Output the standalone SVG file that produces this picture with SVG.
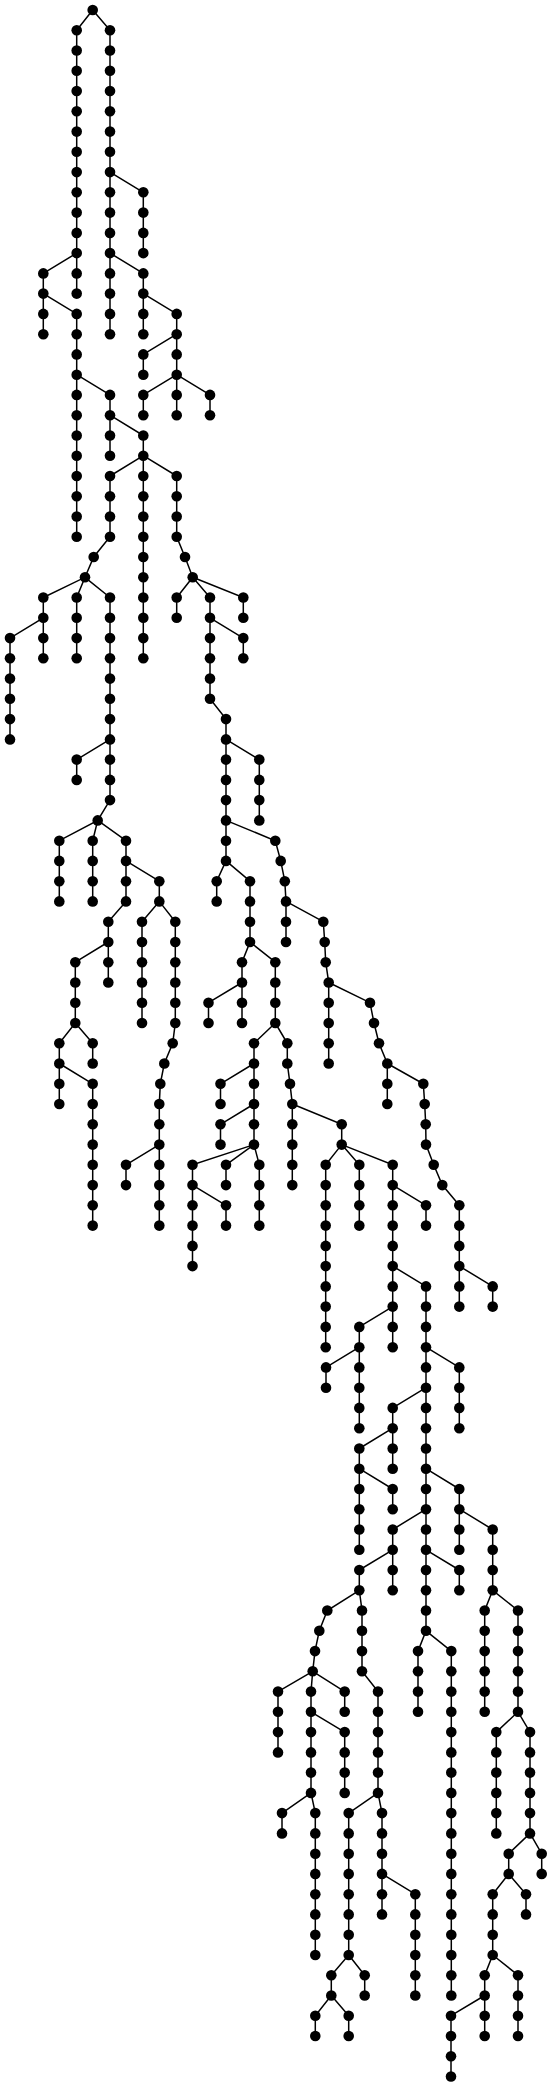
<svg xmlns="http://www.w3.org/2000/svg" width="552" height="2087" viewBox="0 0 552 2087">
<style>
.e path{fill:none;stroke:#000;stroke-width:1.5}
circle{fill:#000}
</style>
<rect width="552" height="2087" fill="#fff"/>
<g id="connectors" class="e">
<path d="M92.7 10L110 30.3V334.2"/>
<path d="M92.7 10L76.7 30.3V253.1L43.3 273.4V334.2"/>
<path d="M110 172.1L143.3 192.3V253.1"/>
<path d="M110 253.1L143.3 273.4V334.2"/>
<path d="M76.7 253.1V293.6"/>
<path d="M43.3 293.6L76.7 313.9V536.8"/>
<path d="M143.3 293.6L176.7 313.9V415.2"/>
<path d="M176.7 334.2L143.3 354.4V374.7"/>
<path d="M176.7 374.7L143.3 394.9V415.2"/>
<path d="M176.7 374.7L210 394.9V415.2"/>
<path d="M76.7 374.7L110 394.9V455.7"/>
<path d="M110 415.2L143.3 435.5V658.3"/>
<path d="M143.3 455.7L110 476V536.8L93.7 557L85 577.3L43.3 597.5V658.3"/>
<path d="M43.3 617.8L10 638.1V739.4"/>
<path d="M85 577.3L76.7 597.5V658.3"/>
<path d="M85 577.3L110 597.5V800.1L97.7 820.4L59.3 840.7V901.4"/>
<path d="M110 739.4L76.7 759.6V779.9"/>
<path d="M97.7 820.4L92.7 840.7V901.4"/>
<path d="M97.7 820.4L126 840.7V901.4L108.3 921.7V982.5"/>
<path d="M108.3 942L75.3 962.2V1023L59.3 1043.3V1104"/>
<path d="M59.3 1063.5L92.7 1083.8V1225.6"/>
<path d="M75.3 1023L92.7 1043.3V1063.5"/>
<path d="M126 860.9L159.3 881.2V901.4L142 921.7V1023"/>
<path d="M159.3 901.4L175.3 921.7V1023L172.7 1043.3L164.3 1063.5L160.3 1083.8L159.3 1104V1225.6"/>
<path d="M159.3 1144.6L126 1164.8V1185.1"/>
<path d="M143.3 455.7L176.7 476V536.8L185 557L192.7 577.3L176.7 597.5V617.8"/>
<path d="M192.7 577.3L243.3 597.5V617.8"/>
<path d="M192.7 577.3L210 597.5V698.8L226 719.1V860.9L216.7 881.2V901.4"/>
<path d="M210 617.8L243.3 638.1V658.3"/>
<path d="M226 739.4L259.3 759.6V820.4"/>
<path d="M226 860.9L250 881.2V942L242 962.2V1023"/>
<path d="M242 982.5L208.5 1002.7V1023"/>
<path d="M250 942L275.3 962.2V1023L254 1043.3V1144.6L259.3 1164.8V1225.6"/>
<path d="M254 1063.5L220.5 1083.8V1104"/>
<path d="M254 1104L220.5 1124.3V1144.6"/>
<path d="M254 1144.6L192.5 1164.8V1266.1"/>
<path d="M192.5 1185.1L226 1205.3V1225.6"/>
<path d="M254 1144.6L226 1164.8V1185.1"/>
<path d="M226 820.4L275.3 840.7L280.7 860.9L284.8 881.2L286 901.4V942"/>
<path d="M286 901.4L323.3 921.7L324.7 942L325.7 962.2L328.7 982.5V1063.5"/>
<path d="M328.7 982.5L370 1002.7L374 1023L379 1043.3L387.3 1063.5V1104"/>
<path d="M387.3 1063.5L423.3 1083.8L424.7 1104L425.7 1124.3L426 1144.6L433.7 1164.8L442.3 1185.1L459.3 1205.3V1306.6"/>
<path d="M459.3 1266.1L492.7 1286.4V1306.6"/>
<path d="M275.3 1023L287.3 1043.3V1063.5L290 1083.8L292.3 1104V1185.1"/>
<path d="M292.3 1104L341.7 1124.3V1144.6L325.7 1164.8V1347.2"/>
<path d="M341.7 1144.6L359.3 1164.8V1225.6"/>
<path d="M341.7 1144.6L392.7 1164.8V1347.2"/>
<path d="M392.7 1185.1L426 1205.3V1225.6"/>
<path d="M392.7 1266.1L426 1286.4V1630.8L418 1651.1V1711.8"/>
<path d="M426 1630.8L451.3 1651.1V1995.5"/>
<path d="M392.7 1306.6L359.3 1326.9V1428.2"/>
<path d="M359.3 1347.2L326 1367.4V1387.7"/>
<path d="M426 1347.2L459.3 1367.4V1428.2"/>
<path d="M426 1387.7L392.7 1407.9V1468.7"/>
<path d="M392.7 1428.2L359.3 1448.5V1549.8"/>
<path d="M359.3 1468.7L392.7 1489V1509.2"/>
<path d="M426 1468.7L459.3 1489V1549.8"/>
<path d="M426 1509.2L392.7 1529.5V1590.3"/>
<path d="M426 1549.8L459.3 1570V1590.3"/>
<path d="M392.7 1549.8L359.3 1570V1590.3L362 1610.5V1671.3L378 1691.6V1792.9L382 1813.1V1914.4"/>
<path d="M378 1792.9L348.7 1813.1V1955L331.3 1975.2V1995.5L315.3 2015.7V2036"/>
<path d="M331.3 1995.5L348.7 2015.7V2036"/>
<path d="M348.7 1955L364.7 1975.2V1995.5"/>
<path d="M382 1873.9L415.3 1894.2V1995.5"/>
<path d="M359.3 1590.3L327.3 1610.5L319.3 1630.8L315 1651.1L312.7 1671.3L311 1691.6V1792.9L315.3 1813.1V1955"/>
<path d="M312.7 1671.3L278 1691.6V1752.4"/>
<path d="M312.7 1671.3L344.7 1691.6V1711.8"/>
<path d="M311 1711.8L344.7 1732.1V1792.9"/>
<path d="M311 1792.9L282 1813.1V1833.4"/>
<path d="M459.3 1509.2L492.7 1529.5V1590.3L518 1610.5V1711.8L530 1732.1V1833.4L508.7 1853.7V1873.9L492.7 1894.2V1955L518 1975.2V2036"/>
<path d="M492.7 1590.3L484.7 1610.5V1711.8"/>
<path d="M518 1711.8L496.3 1732.1V1833.4"/>
<path d="M530 1833.4L541.7 1853.7V1873.9"/>
<path d="M508.7 1873.9L526 1894.2V1914.4"/>
<path d="M492.7 1955L484.7 1975.2V2036"/>
<path d="M484.7 1995.5L451 2015.7V2076.5"/>
</g>
<g id="nodes">
<g id="n1"><circle cx="92.7" cy="10" r="5.3"/></g>
<g id="n2"><circle cx="110" cy="30.3" r="5.3"/></g>
<g id="n3"><circle cx="110" cy="50.5" r="5.3"/></g>
<g id="n4"><circle cx="110" cy="70.8" r="5.3"/></g>
<g id="n5"><circle cx="110" cy="91" r="5.3"/></g>
<g id="n6"><circle cx="110" cy="111.3" r="5.3"/></g>
<g id="n7"><circle cx="110" cy="131.6" r="5.3"/></g>
<g id="n8"><circle cx="110" cy="151.8" r="5.3"/></g>
<g id="n9"><circle cx="110" cy="172.1" r="5.3"/></g>
<g id="n10"><circle cx="110" cy="192.3" r="5.3"/></g>
<g id="n11"><circle cx="110" cy="212.6" r="5.3"/></g>
<g id="n12"><circle cx="110" cy="232.9" r="5.3"/></g>
<g id="n13"><circle cx="110" cy="253.1" r="5.3"/></g>
<g id="n14"><circle cx="110" cy="273.4" r="5.3"/></g>
<g id="n15"><circle cx="110" cy="293.6" r="5.3"/></g>
<g id="n16"><circle cx="110" cy="313.9" r="5.3"/></g>
<g id="n17"><circle cx="110" cy="334.2" r="5.3"/></g>
<g id="n18"><circle cx="76.7" cy="30.3" r="5.3"/></g>
<g id="n19"><circle cx="76.7" cy="50.5" r="5.3"/></g>
<g id="n20"><circle cx="76.7" cy="70.8" r="5.3"/></g>
<g id="n21"><circle cx="76.7" cy="91" r="5.3"/></g>
<g id="n22"><circle cx="76.7" cy="111.3" r="5.3"/></g>
<g id="n23"><circle cx="76.7" cy="131.6" r="5.3"/></g>
<g id="n24"><circle cx="76.7" cy="151.8" r="5.3"/></g>
<g id="n25"><circle cx="76.7" cy="172.1" r="5.3"/></g>
<g id="n26"><circle cx="76.7" cy="192.3" r="5.3"/></g>
<g id="n27"><circle cx="76.7" cy="212.6" r="5.3"/></g>
<g id="n28"><circle cx="76.7" cy="232.9" r="5.3"/></g>
<g id="n29"><circle cx="76.7" cy="253.1" r="5.3"/></g>
<g id="n30"><circle cx="43.3" cy="273.4" r="5.3"/></g>
<g id="n31"><circle cx="43.3" cy="293.6" r="5.3"/></g>
<g id="n32"><circle cx="43.3" cy="313.9" r="5.3"/></g>
<g id="n33"><circle cx="43.3" cy="334.2" r="5.3"/></g>
<g id="n34"><circle cx="143.3" cy="192.3" r="5.3"/></g>
<g id="n35"><circle cx="143.3" cy="212.6" r="5.3"/></g>
<g id="n36"><circle cx="143.3" cy="232.9" r="5.3"/></g>
<g id="n37"><circle cx="143.3" cy="253.1" r="5.3"/></g>
<g id="n38"><circle cx="143.3" cy="273.4" r="5.3"/></g>
<g id="n39"><circle cx="143.3" cy="293.6" r="5.3"/></g>
<g id="n40"><circle cx="143.3" cy="313.9" r="5.3"/></g>
<g id="n41"><circle cx="143.3" cy="334.2" r="5.3"/></g>
<g id="n42"><circle cx="76.7" cy="273.4" r="5.3"/></g>
<g id="n43"><circle cx="76.7" cy="293.6" r="5.3"/></g>
<g id="n44"><circle cx="76.7" cy="313.9" r="5.3"/></g>
<g id="n45"><circle cx="76.7" cy="334.2" r="5.3"/></g>
<g id="n46"><circle cx="76.7" cy="354.4" r="5.3"/></g>
<g id="n47"><circle cx="76.7" cy="374.7" r="5.3"/></g>
<g id="n48"><circle cx="76.7" cy="394.9" r="5.3"/></g>
<g id="n49"><circle cx="76.7" cy="415.2" r="5.3"/></g>
<g id="n50"><circle cx="76.7" cy="435.5" r="5.3"/></g>
<g id="n51"><circle cx="76.7" cy="455.7" r="5.3"/></g>
<g id="n52"><circle cx="76.7" cy="476" r="5.3"/></g>
<g id="n53"><circle cx="76.7" cy="496.2" r="5.3"/></g>
<g id="n54"><circle cx="76.7" cy="516.5" r="5.3"/></g>
<g id="n55"><circle cx="76.7" cy="536.8" r="5.3"/></g>
<g id="n56"><circle cx="176.7" cy="313.9" r="5.3"/></g>
<g id="n57"><circle cx="176.7" cy="334.2" r="5.3"/></g>
<g id="n58"><circle cx="176.7" cy="354.4" r="5.3"/></g>
<g id="n59"><circle cx="176.7" cy="374.7" r="5.3"/></g>
<g id="n60"><circle cx="176.7" cy="394.9" r="5.3"/></g>
<g id="n61"><circle cx="176.7" cy="415.2" r="5.3"/></g>
<g id="n62"><circle cx="143.3" cy="354.4" r="5.3"/></g>
<g id="n63"><circle cx="143.3" cy="374.7" r="5.3"/></g>
<g id="n64"><circle cx="143.3" cy="394.9" r="5.3"/></g>
<g id="n65"><circle cx="143.3" cy="415.2" r="5.3"/></g>
<g id="n66"><circle cx="210" cy="394.9" r="5.3"/></g>
<g id="n67"><circle cx="210" cy="415.2" r="5.3"/></g>
<g id="n68"><circle cx="110" cy="394.9" r="5.3"/></g>
<g id="n69"><circle cx="110" cy="415.2" r="5.3"/></g>
<g id="n70"><circle cx="110" cy="435.5" r="5.3"/></g>
<g id="n71"><circle cx="110" cy="455.7" r="5.3"/></g>
<g id="n72"><circle cx="143.3" cy="435.5" r="5.3"/></g>
<g id="n73"><circle cx="143.3" cy="455.7" r="5.3"/></g>
<g id="n74"><circle cx="143.3" cy="476" r="5.3"/></g>
<g id="n75"><circle cx="143.3" cy="496.2" r="5.3"/></g>
<g id="n76"><circle cx="143.3" cy="516.5" r="5.3"/></g>
<g id="n77"><circle cx="143.3" cy="536.8" r="5.3"/></g>
<g id="n78"><circle cx="143.3" cy="557" r="5.3"/></g>
<g id="n79"><circle cx="143.3" cy="577.3" r="5.3"/></g>
<g id="n80"><circle cx="143.3" cy="597.5" r="5.3"/></g>
<g id="n81"><circle cx="143.3" cy="617.8" r="5.3"/></g>
<g id="n82"><circle cx="143.3" cy="638.1" r="5.3"/></g>
<g id="n83"><circle cx="143.3" cy="658.3" r="5.3"/></g>
<g id="n84"><circle cx="110" cy="476" r="5.3"/></g>
<g id="n85"><circle cx="110" cy="496.2" r="5.3"/></g>
<g id="n86"><circle cx="110" cy="516.5" r="5.3"/></g>
<g id="n87"><circle cx="110" cy="536.8" r="5.3"/></g>
<g id="n88"><circle cx="93.7" cy="557" r="5.3"/></g>
<g id="n89"><circle cx="85" cy="577.3" r="5.3"/></g>
<g id="n90"><circle cx="43.3" cy="597.5" r="5.3"/></g>
<g id="n91"><circle cx="43.3" cy="617.8" r="5.3"/></g>
<g id="n92"><circle cx="43.3" cy="638.1" r="5.3"/></g>
<g id="n93"><circle cx="43.3" cy="658.3" r="5.3"/></g>
<g id="n94"><circle cx="10" cy="638.1" r="5.3"/></g>
<g id="n95"><circle cx="10" cy="658.3" r="5.3"/></g>
<g id="n96"><circle cx="10" cy="678.6" r="5.3"/></g>
<g id="n97"><circle cx="10" cy="698.8" r="5.3"/></g>
<g id="n98"><circle cx="10" cy="719.1" r="5.3"/></g>
<g id="n99"><circle cx="10" cy="739.4" r="5.3"/></g>
<g id="n100"><circle cx="76.7" cy="597.5" r="5.3"/></g>
<g id="n101"><circle cx="76.7" cy="617.8" r="5.3"/></g>
<g id="n102"><circle cx="76.7" cy="638.1" r="5.3"/></g>
<g id="n103"><circle cx="76.7" cy="658.3" r="5.3"/></g>
<g id="n104"><circle cx="110" cy="597.5" r="5.3"/></g>
<g id="n105"><circle cx="110" cy="617.8" r="5.3"/></g>
<g id="n106"><circle cx="110" cy="638.1" r="5.3"/></g>
<g id="n107"><circle cx="110" cy="658.3" r="5.3"/></g>
<g id="n108"><circle cx="110" cy="678.6" r="5.3"/></g>
<g id="n109"><circle cx="110" cy="698.8" r="5.3"/></g>
<g id="n110"><circle cx="110" cy="719.1" r="5.3"/></g>
<g id="n111"><circle cx="110" cy="739.4" r="5.3"/></g>
<g id="n112"><circle cx="110" cy="759.6" r="5.3"/></g>
<g id="n113"><circle cx="110" cy="779.9" r="5.3"/></g>
<g id="n114"><circle cx="110" cy="800.1" r="5.3"/></g>
<g id="n115"><circle cx="97.7" cy="820.4" r="5.3"/></g>
<g id="n116"><circle cx="59.3" cy="840.7" r="5.3"/></g>
<g id="n117"><circle cx="59.3" cy="860.9" r="5.3"/></g>
<g id="n118"><circle cx="59.3" cy="881.2" r="5.3"/></g>
<g id="n119"><circle cx="59.3" cy="901.4" r="5.3"/></g>
<g id="n120"><circle cx="76.7" cy="759.6" r="5.3"/></g>
<g id="n121"><circle cx="76.7" cy="779.9" r="5.3"/></g>
<g id="n122"><circle cx="92.7" cy="840.7" r="5.3"/></g>
<g id="n123"><circle cx="92.7" cy="860.9" r="5.3"/></g>
<g id="n124"><circle cx="92.7" cy="881.2" r="5.3"/></g>
<g id="n125"><circle cx="92.7" cy="901.4" r="5.3"/></g>
<g id="n126"><circle cx="126" cy="840.7" r="5.3"/></g>
<g id="n127"><circle cx="126" cy="860.9" r="5.3"/></g>
<g id="n128"><circle cx="126" cy="881.2" r="5.3"/></g>
<g id="n129"><circle cx="126" cy="901.4" r="5.3"/></g>
<g id="n130"><circle cx="108.3" cy="921.7" r="5.3"/></g>
<g id="n131"><circle cx="108.3" cy="942" r="5.3"/></g>
<g id="n132"><circle cx="108.3" cy="962.2" r="5.3"/></g>
<g id="n133"><circle cx="108.3" cy="982.5" r="5.3"/></g>
<g id="n134"><circle cx="75.3" cy="962.2" r="5.3"/></g>
<g id="n135"><circle cx="75.3" cy="982.5" r="5.3"/></g>
<g id="n136"><circle cx="75.3" cy="1002.7" r="5.3"/></g>
<g id="n137"><circle cx="75.3" cy="1023" r="5.3"/></g>
<g id="n138"><circle cx="59.3" cy="1043.3" r="5.3"/></g>
<g id="n139"><circle cx="59.3" cy="1063.5" r="5.3"/></g>
<g id="n140"><circle cx="59.3" cy="1083.8" r="5.3"/></g>
<g id="n141"><circle cx="59.3" cy="1104" r="5.3"/></g>
<g id="n142"><circle cx="92.7" cy="1083.8" r="5.3"/></g>
<g id="n143"><circle cx="92.7" cy="1104" r="5.3"/></g>
<g id="n144"><circle cx="92.7" cy="1124.3" r="5.3"/></g>
<g id="n145"><circle cx="92.7" cy="1144.6" r="5.3"/></g>
<g id="n146"><circle cx="92.7" cy="1164.8" r="5.3"/></g>
<g id="n147"><circle cx="92.7" cy="1185.1" r="5.3"/></g>
<g id="n148"><circle cx="92.7" cy="1205.3" r="5.3"/></g>
<g id="n149"><circle cx="92.7" cy="1225.6" r="5.3"/></g>
<g id="n150"><circle cx="92.7" cy="1043.3" r="5.3"/></g>
<g id="n151"><circle cx="92.7" cy="1063.5" r="5.3"/></g>
<g id="n152"><circle cx="159.3" cy="881.2" r="5.3"/></g>
<g id="n153"><circle cx="159.3" cy="901.4" r="5.3"/></g>
<g id="n154"><circle cx="142" cy="921.7" r="5.3"/></g>
<g id="n155"><circle cx="142" cy="942" r="5.3"/></g>
<g id="n156"><circle cx="142" cy="962.2" r="5.3"/></g>
<g id="n157"><circle cx="142" cy="982.5" r="5.3"/></g>
<g id="n158"><circle cx="142" cy="1002.7" r="5.3"/></g>
<g id="n159"><circle cx="142" cy="1023" r="5.3"/></g>
<g id="n160"><circle cx="175.3" cy="921.7" r="5.3"/></g>
<g id="n161"><circle cx="175.3" cy="942" r="5.3"/></g>
<g id="n162"><circle cx="175.3" cy="962.2" r="5.3"/></g>
<g id="n163"><circle cx="175.3" cy="982.5" r="5.3"/></g>
<g id="n164"><circle cx="175.3" cy="1002.7" r="5.3"/></g>
<g id="n165"><circle cx="175.3" cy="1023" r="5.3"/></g>
<g id="n166"><circle cx="172.7" cy="1043.3" r="5.3"/></g>
<g id="n167"><circle cx="164.3" cy="1063.5" r="5.3"/></g>
<g id="n168"><circle cx="160.3" cy="1083.8" r="5.3"/></g>
<g id="n169"><circle cx="159.3" cy="1104" r="5.3"/></g>
<g id="n170"><circle cx="159.3" cy="1124.3" r="5.3"/></g>
<g id="n171"><circle cx="159.3" cy="1144.6" r="5.3"/></g>
<g id="n172"><circle cx="159.3" cy="1164.8" r="5.3"/></g>
<g id="n173"><circle cx="159.3" cy="1185.1" r="5.3"/></g>
<g id="n174"><circle cx="159.3" cy="1205.3" r="5.3"/></g>
<g id="n175"><circle cx="159.3" cy="1225.6" r="5.3"/></g>
<g id="n176"><circle cx="126" cy="1164.8" r="5.3"/></g>
<g id="n177"><circle cx="126" cy="1185.1" r="5.3"/></g>
<g id="n178"><circle cx="176.7" cy="476" r="5.3"/></g>
<g id="n179"><circle cx="176.7" cy="496.2" r="5.3"/></g>
<g id="n180"><circle cx="176.7" cy="516.5" r="5.3"/></g>
<g id="n181"><circle cx="176.7" cy="536.8" r="5.3"/></g>
<g id="n182"><circle cx="185" cy="557" r="5.3"/></g>
<g id="n183"><circle cx="192.7" cy="577.3" r="5.3"/></g>
<g id="n184"><circle cx="176.7" cy="597.5" r="5.3"/></g>
<g id="n185"><circle cx="176.7" cy="617.8" r="5.3"/></g>
<g id="n186"><circle cx="243.3" cy="597.5" r="5.3"/></g>
<g id="n187"><circle cx="243.3" cy="617.8" r="5.3"/></g>
<g id="n188"><circle cx="210" cy="597.5" r="5.3"/></g>
<g id="n189"><circle cx="210" cy="617.8" r="5.3"/></g>
<g id="n190"><circle cx="210" cy="638.1" r="5.3"/></g>
<g id="n191"><circle cx="210" cy="658.3" r="5.3"/></g>
<g id="n192"><circle cx="210" cy="678.6" r="5.3"/></g>
<g id="n193"><circle cx="210" cy="698.8" r="5.3"/></g>
<g id="n194"><circle cx="226" cy="719.1" r="5.3"/></g>
<g id="n195"><circle cx="226" cy="739.4" r="5.3"/></g>
<g id="n196"><circle cx="226" cy="759.6" r="5.3"/></g>
<g id="n197"><circle cx="226" cy="779.9" r="5.3"/></g>
<g id="n198"><circle cx="226" cy="800.1" r="5.3"/></g>
<g id="n199"><circle cx="226" cy="820.4" r="5.3"/></g>
<g id="n200"><circle cx="226" cy="840.7" r="5.3"/></g>
<g id="n201"><circle cx="226" cy="860.9" r="5.3"/></g>
<g id="n202"><circle cx="216.7" cy="881.2" r="5.3"/></g>
<g id="n203"><circle cx="216.7" cy="901.4" r="5.3"/></g>
<g id="n204"><circle cx="243.3" cy="638.1" r="5.3"/></g>
<g id="n205"><circle cx="243.3" cy="658.3" r="5.3"/></g>
<g id="n206"><circle cx="259.3" cy="759.6" r="5.3"/></g>
<g id="n207"><circle cx="259.3" cy="779.9" r="5.3"/></g>
<g id="n208"><circle cx="259.3" cy="800.1" r="5.3"/></g>
<g id="n209"><circle cx="259.3" cy="820.4" r="5.3"/></g>
<g id="n210"><circle cx="250" cy="881.2" r="5.3"/></g>
<g id="n211"><circle cx="250" cy="901.4" r="5.3"/></g>
<g id="n212"><circle cx="250" cy="921.7" r="5.3"/></g>
<g id="n213"><circle cx="250" cy="942" r="5.3"/></g>
<g id="n214"><circle cx="242" cy="962.2" r="5.3"/></g>
<g id="n215"><circle cx="242" cy="982.5" r="5.3"/></g>
<g id="n216"><circle cx="242" cy="1002.7" r="5.3"/></g>
<g id="n217"><circle cx="242" cy="1023" r="5.3"/></g>
<g id="n218"><circle cx="208.5" cy="1002.7" r="5.3"/></g>
<g id="n219"><circle cx="208.5" cy="1023" r="5.3"/></g>
<g id="n220"><circle cx="275.3" cy="962.2" r="5.3"/></g>
<g id="n221"><circle cx="275.3" cy="982.5" r="5.3"/></g>
<g id="n222"><circle cx="275.3" cy="1002.7" r="5.3"/></g>
<g id="n223"><circle cx="275.3" cy="1023" r="5.3"/></g>
<g id="n224"><circle cx="254" cy="1043.3" r="5.3"/></g>
<g id="n225"><circle cx="254" cy="1063.5" r="5.3"/></g>
<g id="n226"><circle cx="254" cy="1083.8" r="5.3"/></g>
<g id="n227"><circle cx="254" cy="1104" r="5.3"/></g>
<g id="n228"><circle cx="254" cy="1124.3" r="5.3"/></g>
<g id="n229"><circle cx="254" cy="1144.6" r="5.3"/></g>
<g id="n230"><circle cx="259.3" cy="1164.8" r="5.3"/></g>
<g id="n231"><circle cx="259.3" cy="1185.1" r="5.3"/></g>
<g id="n232"><circle cx="259.3" cy="1205.3" r="5.3"/></g>
<g id="n233"><circle cx="259.3" cy="1225.6" r="5.3"/></g>
<g id="n234"><circle cx="220.5" cy="1083.8" r="5.3"/></g>
<g id="n235"><circle cx="220.5" cy="1104" r="5.3"/></g>
<g id="n236"><circle cx="220.5" cy="1124.3" r="5.3"/></g>
<g id="n237"><circle cx="220.5" cy="1144.6" r="5.3"/></g>
<g id="n238"><circle cx="192.5" cy="1164.8" r="5.3"/></g>
<g id="n239"><circle cx="192.5" cy="1185.1" r="5.3"/></g>
<g id="n240"><circle cx="192.5" cy="1205.3" r="5.3"/></g>
<g id="n241"><circle cx="192.5" cy="1225.6" r="5.3"/></g>
<g id="n242"><circle cx="192.5" cy="1245.9" r="5.3"/></g>
<g id="n243"><circle cx="192.5" cy="1266.1" r="5.3"/></g>
<g id="n244"><circle cx="226" cy="1205.3" r="5.3"/></g>
<g id="n245"><circle cx="226" cy="1225.6" r="5.3"/></g>
<g id="n246"><circle cx="226" cy="1164.8" r="5.3"/></g>
<g id="n247"><circle cx="226" cy="1185.1" r="5.3"/></g>
<g id="n248"><circle cx="275.3" cy="840.7" r="5.3"/></g>
<g id="n249"><circle cx="280.7" cy="860.9" r="5.3"/></g>
<g id="n250"><circle cx="284.8" cy="881.2" r="5.3"/></g>
<g id="n251"><circle cx="286" cy="901.4" r="5.3"/></g>
<g id="n252"><circle cx="286" cy="921.7" r="5.3"/></g>
<g id="n253"><circle cx="286" cy="942" r="5.3"/></g>
<g id="n254"><circle cx="323.3" cy="921.7" r="5.3"/></g>
<g id="n255"><circle cx="324.7" cy="942" r="5.3"/></g>
<g id="n256"><circle cx="325.7" cy="962.2" r="5.3"/></g>
<g id="n257"><circle cx="328.7" cy="982.5" r="5.3"/></g>
<g id="n258"><circle cx="328.7" cy="1002.7" r="5.3"/></g>
<g id="n259"><circle cx="328.7" cy="1023" r="5.3"/></g>
<g id="n260"><circle cx="328.7" cy="1043.3" r="5.3"/></g>
<g id="n261"><circle cx="328.7" cy="1063.5" r="5.3"/></g>
<g id="n262"><circle cx="370" cy="1002.7" r="5.3"/></g>
<g id="n263"><circle cx="374" cy="1023" r="5.3"/></g>
<g id="n264"><circle cx="379" cy="1043.3" r="5.3"/></g>
<g id="n265"><circle cx="387.3" cy="1063.5" r="5.3"/></g>
<g id="n266"><circle cx="387.3" cy="1083.8" r="5.3"/></g>
<g id="n267"><circle cx="387.3" cy="1104" r="5.3"/></g>
<g id="n268"><circle cx="423.3" cy="1083.8" r="5.3"/></g>
<g id="n269"><circle cx="424.7" cy="1104" r="5.3"/></g>
<g id="n270"><circle cx="425.7" cy="1124.3" r="5.3"/></g>
<g id="n271"><circle cx="426" cy="1144.6" r="5.3"/></g>
<g id="n272"><circle cx="433.7" cy="1164.8" r="5.3"/></g>
<g id="n273"><circle cx="442.3" cy="1185.1" r="5.3"/></g>
<g id="n274"><circle cx="459.3" cy="1205.3" r="5.3"/></g>
<g id="n275"><circle cx="459.3" cy="1225.6" r="5.3"/></g>
<g id="n276"><circle cx="459.3" cy="1245.9" r="5.3"/></g>
<g id="n277"><circle cx="459.3" cy="1266.1" r="5.3"/></g>
<g id="n278"><circle cx="459.3" cy="1286.4" r="5.3"/></g>
<g id="n279"><circle cx="459.3" cy="1306.6" r="5.3"/></g>
<g id="n280"><circle cx="492.7" cy="1286.4" r="5.3"/></g>
<g id="n281"><circle cx="492.7" cy="1306.6" r="5.3"/></g>
<g id="n282"><circle cx="287.3" cy="1043.3" r="5.3"/></g>
<g id="n283"><circle cx="287.3" cy="1063.5" r="5.3"/></g>
<g id="n284"><circle cx="290" cy="1083.8" r="5.3"/></g>
<g id="n285"><circle cx="292.3" cy="1104" r="5.3"/></g>
<g id="n286"><circle cx="292.3" cy="1124.3" r="5.3"/></g>
<g id="n287"><circle cx="292.3" cy="1144.6" r="5.3"/></g>
<g id="n288"><circle cx="292.3" cy="1164.8" r="5.3"/></g>
<g id="n289"><circle cx="292.3" cy="1185.1" r="5.3"/></g>
<g id="n290"><circle cx="341.7" cy="1124.3" r="5.3"/></g>
<g id="n291"><circle cx="341.7" cy="1144.6" r="5.3"/></g>
<g id="n292"><circle cx="325.7" cy="1164.8" r="5.3"/></g>
<g id="n293"><circle cx="325.7" cy="1185.1" r="5.3"/></g>
<g id="n294"><circle cx="325.7" cy="1205.3" r="5.3"/></g>
<g id="n295"><circle cx="325.7" cy="1225.6" r="5.3"/></g>
<g id="n296"><circle cx="325.7" cy="1245.9" r="5.3"/></g>
<g id="n297"><circle cx="325.7" cy="1266.1" r="5.3"/></g>
<g id="n298"><circle cx="325.7" cy="1286.4" r="5.3"/></g>
<g id="n299"><circle cx="325.7" cy="1306.6" r="5.3"/></g>
<g id="n300"><circle cx="325.7" cy="1326.9" r="5.3"/></g>
<g id="n301"><circle cx="325.7" cy="1347.2" r="5.3"/></g>
<g id="n302"><circle cx="359.3" cy="1164.8" r="5.3"/></g>
<g id="n303"><circle cx="359.3" cy="1185.1" r="5.3"/></g>
<g id="n304"><circle cx="359.3" cy="1205.3" r="5.3"/></g>
<g id="n305"><circle cx="359.3" cy="1225.6" r="5.3"/></g>
<g id="n306"><circle cx="392.7" cy="1164.8" r="5.3"/></g>
<g id="n307"><circle cx="392.7" cy="1185.1" r="5.3"/></g>
<g id="n308"><circle cx="392.7" cy="1205.3" r="5.3"/></g>
<g id="n309"><circle cx="392.7" cy="1225.6" r="5.3"/></g>
<g id="n310"><circle cx="392.7" cy="1245.9" r="5.3"/></g>
<g id="n311"><circle cx="392.7" cy="1266.1" r="5.3"/></g>
<g id="n312"><circle cx="392.7" cy="1286.4" r="5.3"/></g>
<g id="n313"><circle cx="392.7" cy="1306.6" r="5.3"/></g>
<g id="n314"><circle cx="392.7" cy="1326.9" r="5.3"/></g>
<g id="n315"><circle cx="392.7" cy="1347.2" r="5.3"/></g>
<g id="n316"><circle cx="426" cy="1205.3" r="5.3"/></g>
<g id="n317"><circle cx="426" cy="1225.6" r="5.3"/></g>
<g id="n318"><circle cx="426" cy="1286.4" r="5.3"/></g>
<g id="n319"><circle cx="426" cy="1306.6" r="5.3"/></g>
<g id="n320"><circle cx="426" cy="1326.9" r="5.3"/></g>
<g id="n321"><circle cx="426" cy="1347.2" r="5.3"/></g>
<g id="n322"><circle cx="426" cy="1367.4" r="5.3"/></g>
<g id="n323"><circle cx="426" cy="1387.7" r="5.3"/></g>
<g id="n324"><circle cx="426" cy="1407.9" r="5.3"/></g>
<g id="n325"><circle cx="426" cy="1428.2" r="5.3"/></g>
<g id="n326"><circle cx="426" cy="1448.5" r="5.3"/></g>
<g id="n327"><circle cx="426" cy="1468.7" r="5.3"/></g>
<g id="n328"><circle cx="426" cy="1489" r="5.3"/></g>
<g id="n329"><circle cx="426" cy="1509.2" r="5.3"/></g>
<g id="n330"><circle cx="426" cy="1529.5" r="5.3"/></g>
<g id="n331"><circle cx="426" cy="1549.8" r="5.3"/></g>
<g id="n332"><circle cx="426" cy="1570" r="5.3"/></g>
<g id="n333"><circle cx="426" cy="1590.3" r="5.3"/></g>
<g id="n334"><circle cx="426" cy="1610.5" r="5.3"/></g>
<g id="n335"><circle cx="426" cy="1630.8" r="5.3"/></g>
<g id="n336"><circle cx="418" cy="1651.1" r="5.3"/></g>
<g id="n337"><circle cx="418" cy="1671.3" r="5.3"/></g>
<g id="n338"><circle cx="418" cy="1691.6" r="5.3"/></g>
<g id="n339"><circle cx="418" cy="1711.8" r="5.3"/></g>
<g id="n340"><circle cx="451.3" cy="1651.1" r="5.3"/></g>
<g id="n341"><circle cx="451.3" cy="1671.3" r="5.3"/></g>
<g id="n342"><circle cx="451.3" cy="1691.6" r="5.3"/></g>
<g id="n343"><circle cx="451.3" cy="1711.8" r="5.3"/></g>
<g id="n344"><circle cx="451.3" cy="1732.1" r="5.3"/></g>
<g id="n345"><circle cx="451.3" cy="1752.4" r="5.3"/></g>
<g id="n346"><circle cx="451.3" cy="1772.6" r="5.3"/></g>
<g id="n347"><circle cx="451.3" cy="1792.9" r="5.3"/></g>
<g id="n348"><circle cx="451.3" cy="1813.1" r="5.3"/></g>
<g id="n349"><circle cx="451.3" cy="1833.4" r="5.3"/></g>
<g id="n350"><circle cx="451.3" cy="1853.7" r="5.3"/></g>
<g id="n351"><circle cx="451.3" cy="1873.9" r="5.3"/></g>
<g id="n352"><circle cx="451.3" cy="1894.2" r="5.3"/></g>
<g id="n353"><circle cx="451.3" cy="1914.4" r="5.3"/></g>
<g id="n354"><circle cx="451.3" cy="1934.7" r="5.3"/></g>
<g id="n355"><circle cx="451.3" cy="1955" r="5.3"/></g>
<g id="n356"><circle cx="451.3" cy="1975.2" r="5.3"/></g>
<g id="n357"><circle cx="451.3" cy="1995.5" r="5.3"/></g>
<g id="n358"><circle cx="359.3" cy="1326.9" r="5.3"/></g>
<g id="n359"><circle cx="359.3" cy="1347.2" r="5.3"/></g>
<g id="n360"><circle cx="359.3" cy="1367.4" r="5.3"/></g>
<g id="n361"><circle cx="359.3" cy="1387.7" r="5.3"/></g>
<g id="n362"><circle cx="359.3" cy="1407.9" r="5.3"/></g>
<g id="n363"><circle cx="359.3" cy="1428.2" r="5.3"/></g>
<g id="n364"><circle cx="326" cy="1367.4" r="5.3"/></g>
<g id="n365"><circle cx="326" cy="1387.7" r="5.3"/></g>
<g id="n366"><circle cx="459.3" cy="1367.4" r="5.3"/></g>
<g id="n367"><circle cx="459.3" cy="1387.7" r="5.3"/></g>
<g id="n368"><circle cx="459.3" cy="1407.9" r="5.3"/></g>
<g id="n369"><circle cx="459.3" cy="1428.2" r="5.3"/></g>
<g id="n370"><circle cx="392.7" cy="1407.9" r="5.3"/></g>
<g id="n371"><circle cx="392.7" cy="1428.2" r="5.3"/></g>
<g id="n372"><circle cx="392.7" cy="1448.5" r="5.3"/></g>
<g id="n373"><circle cx="392.7" cy="1468.7" r="5.3"/></g>
<g id="n374"><circle cx="359.3" cy="1448.5" r="5.3"/></g>
<g id="n375"><circle cx="359.3" cy="1468.7" r="5.3"/></g>
<g id="n376"><circle cx="359.3" cy="1489" r="5.3"/></g>
<g id="n377"><circle cx="359.3" cy="1509.2" r="5.3"/></g>
<g id="n378"><circle cx="359.3" cy="1529.5" r="5.3"/></g>
<g id="n379"><circle cx="359.3" cy="1549.8" r="5.3"/></g>
<g id="n380"><circle cx="392.7" cy="1489" r="5.3"/></g>
<g id="n381"><circle cx="392.7" cy="1509.2" r="5.3"/></g>
<g id="n382"><circle cx="459.3" cy="1489" r="5.3"/></g>
<g id="n383"><circle cx="459.3" cy="1509.2" r="5.3"/></g>
<g id="n384"><circle cx="459.3" cy="1529.5" r="5.3"/></g>
<g id="n385"><circle cx="459.3" cy="1549.8" r="5.3"/></g>
<g id="n386"><circle cx="392.7" cy="1529.5" r="5.3"/></g>
<g id="n387"><circle cx="392.7" cy="1549.8" r="5.3"/></g>
<g id="n388"><circle cx="392.7" cy="1570" r="5.3"/></g>
<g id="n389"><circle cx="392.7" cy="1590.3" r="5.3"/></g>
<g id="n390"><circle cx="459.3" cy="1570" r="5.3"/></g>
<g id="n391"><circle cx="459.3" cy="1590.3" r="5.3"/></g>
<g id="n392"><circle cx="359.3" cy="1570" r="5.3"/></g>
<g id="n393"><circle cx="359.3" cy="1590.3" r="5.3"/></g>
<g id="n394"><circle cx="362" cy="1610.5" r="5.3"/></g>
<g id="n395"><circle cx="362" cy="1630.8" r="5.3"/></g>
<g id="n396"><circle cx="362" cy="1651.1" r="5.3"/></g>
<g id="n397"><circle cx="362" cy="1671.3" r="5.3"/></g>
<g id="n398"><circle cx="378" cy="1691.6" r="5.3"/></g>
<g id="n399"><circle cx="378" cy="1711.8" r="5.3"/></g>
<g id="n400"><circle cx="378" cy="1732.1" r="5.3"/></g>
<g id="n401"><circle cx="378" cy="1752.4" r="5.3"/></g>
<g id="n402"><circle cx="378" cy="1772.6" r="5.3"/></g>
<g id="n403"><circle cx="378" cy="1792.9" r="5.3"/></g>
<g id="n404"><circle cx="382" cy="1813.1" r="5.3"/></g>
<g id="n405"><circle cx="382" cy="1833.4" r="5.3"/></g>
<g id="n406"><circle cx="382" cy="1853.7" r="5.3"/></g>
<g id="n407"><circle cx="382" cy="1873.9" r="5.3"/></g>
<g id="n408"><circle cx="382" cy="1894.2" r="5.3"/></g>
<g id="n409"><circle cx="382" cy="1914.4" r="5.3"/></g>
<g id="n410"><circle cx="348.7" cy="1813.1" r="5.3"/></g>
<g id="n411"><circle cx="348.7" cy="1833.4" r="5.3"/></g>
<g id="n412"><circle cx="348.7" cy="1853.7" r="5.3"/></g>
<g id="n413"><circle cx="348.7" cy="1873.9" r="5.3"/></g>
<g id="n414"><circle cx="348.7" cy="1894.2" r="5.3"/></g>
<g id="n415"><circle cx="348.7" cy="1914.4" r="5.3"/></g>
<g id="n416"><circle cx="348.7" cy="1934.7" r="5.3"/></g>
<g id="n417"><circle cx="348.7" cy="1955" r="5.3"/></g>
<g id="n418"><circle cx="331.3" cy="1975.2" r="5.3"/></g>
<g id="n419"><circle cx="331.3" cy="1995.5" r="5.3"/></g>
<g id="n420"><circle cx="315.3" cy="2015.7" r="5.3"/></g>
<g id="n421"><circle cx="315.3" cy="2036" r="5.3"/></g>
<g id="n422"><circle cx="348.7" cy="2015.7" r="5.3"/></g>
<g id="n423"><circle cx="348.7" cy="2036" r="5.3"/></g>
<g id="n424"><circle cx="364.7" cy="1975.2" r="5.3"/></g>
<g id="n425"><circle cx="364.7" cy="1995.5" r="5.3"/></g>
<g id="n426"><circle cx="415.3" cy="1894.2" r="5.3"/></g>
<g id="n427"><circle cx="415.3" cy="1914.4" r="5.3"/></g>
<g id="n428"><circle cx="415.3" cy="1934.7" r="5.3"/></g>
<g id="n429"><circle cx="415.3" cy="1955" r="5.3"/></g>
<g id="n430"><circle cx="415.3" cy="1975.2" r="5.3"/></g>
<g id="n431"><circle cx="415.3" cy="1995.5" r="5.3"/></g>
<g id="n432"><circle cx="327.3" cy="1610.5" r="5.3"/></g>
<g id="n433"><circle cx="319.3" cy="1630.8" r="5.3"/></g>
<g id="n434"><circle cx="315" cy="1651.1" r="5.3"/></g>
<g id="n435"><circle cx="312.7" cy="1671.3" r="5.3"/></g>
<g id="n436"><circle cx="311" cy="1691.6" r="5.3"/></g>
<g id="n437"><circle cx="311" cy="1711.8" r="5.3"/></g>
<g id="n438"><circle cx="311" cy="1732.1" r="5.3"/></g>
<g id="n439"><circle cx="311" cy="1752.4" r="5.3"/></g>
<g id="n440"><circle cx="311" cy="1772.6" r="5.3"/></g>
<g id="n441"><circle cx="311" cy="1792.9" r="5.3"/></g>
<g id="n442"><circle cx="315.3" cy="1813.1" r="5.3"/></g>
<g id="n443"><circle cx="315.3" cy="1833.4" r="5.3"/></g>
<g id="n444"><circle cx="315.3" cy="1853.7" r="5.3"/></g>
<g id="n445"><circle cx="315.3" cy="1873.9" r="5.3"/></g>
<g id="n446"><circle cx="315.3" cy="1894.2" r="5.3"/></g>
<g id="n447"><circle cx="315.3" cy="1914.4" r="5.3"/></g>
<g id="n448"><circle cx="315.3" cy="1934.7" r="5.3"/></g>
<g id="n449"><circle cx="315.3" cy="1955" r="5.3"/></g>
<g id="n450"><circle cx="278" cy="1691.6" r="5.3"/></g>
<g id="n451"><circle cx="278" cy="1711.8" r="5.3"/></g>
<g id="n452"><circle cx="278" cy="1732.1" r="5.3"/></g>
<g id="n453"><circle cx="278" cy="1752.4" r="5.3"/></g>
<g id="n454"><circle cx="344.7" cy="1691.6" r="5.3"/></g>
<g id="n455"><circle cx="344.7" cy="1711.8" r="5.3"/></g>
<g id="n456"><circle cx="344.7" cy="1732.1" r="5.3"/></g>
<g id="n457"><circle cx="344.7" cy="1752.4" r="5.3"/></g>
<g id="n458"><circle cx="344.7" cy="1772.6" r="5.3"/></g>
<g id="n459"><circle cx="344.7" cy="1792.9" r="5.3"/></g>
<g id="n460"><circle cx="282" cy="1813.1" r="5.3"/></g>
<g id="n461"><circle cx="282" cy="1833.4" r="5.3"/></g>
<g id="n462"><circle cx="492.7" cy="1529.5" r="5.3"/></g>
<g id="n463"><circle cx="492.7" cy="1549.8" r="5.3"/></g>
<g id="n464"><circle cx="492.7" cy="1570" r="5.3"/></g>
<g id="n465"><circle cx="492.7" cy="1590.3" r="5.3"/></g>
<g id="n466"><circle cx="518" cy="1610.5" r="5.3"/></g>
<g id="n467"><circle cx="518" cy="1630.8" r="5.3"/></g>
<g id="n468"><circle cx="518" cy="1651.1" r="5.3"/></g>
<g id="n469"><circle cx="518" cy="1671.3" r="5.3"/></g>
<g id="n470"><circle cx="518" cy="1691.6" r="5.3"/></g>
<g id="n471"><circle cx="518" cy="1711.8" r="5.3"/></g>
<g id="n472"><circle cx="530" cy="1732.1" r="5.3"/></g>
<g id="n473"><circle cx="530" cy="1752.4" r="5.3"/></g>
<g id="n474"><circle cx="530" cy="1772.6" r="5.3"/></g>
<g id="n475"><circle cx="530" cy="1792.9" r="5.3"/></g>
<g id="n476"><circle cx="530" cy="1813.1" r="5.3"/></g>
<g id="n477"><circle cx="530" cy="1833.4" r="5.3"/></g>
<g id="n478"><circle cx="508.7" cy="1853.7" r="5.3"/></g>
<g id="n479"><circle cx="508.7" cy="1873.9" r="5.3"/></g>
<g id="n480"><circle cx="492.7" cy="1894.2" r="5.3"/></g>
<g id="n481"><circle cx="492.7" cy="1914.4" r="5.3"/></g>
<g id="n482"><circle cx="492.7" cy="1934.7" r="5.3"/></g>
<g id="n483"><circle cx="492.7" cy="1955" r="5.3"/></g>
<g id="n484"><circle cx="518" cy="1975.2" r="5.3"/></g>
<g id="n485"><circle cx="518" cy="1995.5" r="5.3"/></g>
<g id="n486"><circle cx="518" cy="2015.7" r="5.3"/></g>
<g id="n487"><circle cx="518" cy="2036" r="5.3"/></g>
<g id="n488"><circle cx="484.7" cy="1610.5" r="5.3"/></g>
<g id="n489"><circle cx="484.7" cy="1630.8" r="5.3"/></g>
<g id="n490"><circle cx="484.7" cy="1651.1" r="5.3"/></g>
<g id="n491"><circle cx="484.7" cy="1671.3" r="5.3"/></g>
<g id="n492"><circle cx="484.7" cy="1691.6" r="5.3"/></g>
<g id="n493"><circle cx="484.7" cy="1711.8" r="5.3"/></g>
<g id="n494"><circle cx="496.3" cy="1732.1" r="5.3"/></g>
<g id="n495"><circle cx="496.3" cy="1752.4" r="5.3"/></g>
<g id="n496"><circle cx="496.3" cy="1772.6" r="5.3"/></g>
<g id="n497"><circle cx="496.3" cy="1792.9" r="5.3"/></g>
<g id="n498"><circle cx="496.3" cy="1813.1" r="5.3"/></g>
<g id="n499"><circle cx="496.3" cy="1833.4" r="5.3"/></g>
<g id="n500"><circle cx="541.7" cy="1853.7" r="5.3"/></g>
<g id="n501"><circle cx="541.7" cy="1873.9" r="5.3"/></g>
<g id="n502"><circle cx="526" cy="1894.2" r="5.3"/></g>
<g id="n503"><circle cx="526" cy="1914.4" r="5.3"/></g>
<g id="n504"><circle cx="484.7" cy="1975.2" r="5.3"/></g>
<g id="n505"><circle cx="484.7" cy="1995.5" r="5.3"/></g>
<g id="n506"><circle cx="484.7" cy="2015.7" r="5.3"/></g>
<g id="n507"><circle cx="484.7" cy="2036" r="5.3"/></g>
<g id="n508"><circle cx="451" cy="2015.7" r="5.3"/></g>
<g id="n509"><circle cx="451" cy="2036" r="5.3"/></g>
<g id="n510"><circle cx="451" cy="2056.3" r="5.3"/></g>
<g id="n511"><circle cx="451" cy="2076.5" r="5.3"/></g>
</g>
</svg>
